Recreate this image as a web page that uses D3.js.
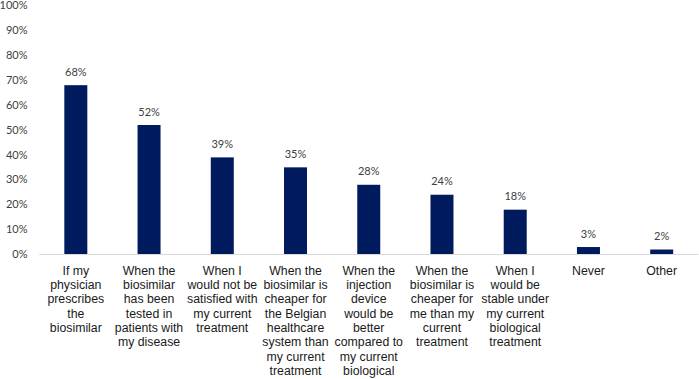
<!DOCTYPE html>
<html>
<head>
<meta charset="utf-8">
<script src="https://cdn.jsdelivr.net/npm/d3@7/dist/d3.min.js"></script>
<style>
  html, body { margin: 0; padding: 0; background: #fff; }
  svg { display: block; }
</style>
</head>
<body>
<svg id="chart" width="699" height="379"></svg>
<script>
const categories = [
  "If my physician prescribes the biosimilar",
  "When the biosimilar has been tested in patients with my disease",
  "When I would not be satisfied with my current treatment",
  "When the biosimilar is cheaper for the Belgian healthcare system than my current treatment",
  "When the injection device would be better compared to my current biological",
  "When the biosimilar is cheaper for me than my current treatment",
  "When I would be stable under my current biological treatment",
  "Never",
  "Other"
];
const categoryLines = [
  ["If my", "physician", "prescribes", "the", "biosimilar"],
  ["When the", "biosimilar", "has been", "tested in", "patients with", "my disease"],
  ["When I", "would not be", "satisfied with", "my current", "treatment"],
  ["When the", "biosimilar is", "cheaper for", "the Belgian", "healthcare", "system than", "my current", "treatment"],
  ["When the", "injection", "device", "would be", "better", "compared to", "my current", "biological"],
  ["When the", "biosimilar is", "cheaper for", "me than my", "current", "treatment"],
  ["When I", "would be", "stable under", "my current", "biological", "treatment"],
  ["Never"],
  ["Other"]
];
const values = [68, 52, 39, 35, 28, 24, 18, 3, 2];
const yTicks = [0, 10, 20, 30, 40, 50, 60, 70, 80, 90, 100];

const svg = d3.select("#chart");
const x = d3.scaleBand().domain(categories).range([39.2, 698.3]).padding(0);
const y = d3.scaleLinear().domain([0, 100]).range([254.5, 5.5]);
const barW = x.bandwidth() * 0.314;

// y axis labels
svg.append("g").selectAll("text").data(yTicks).join("text")
  .attr("x", 27.5)
  .attr("y", d => y(d) + 3.6)
  .attr("text-anchor", "end")
  .attr("font-family", "Lato, 'Open Sans', sans-serif")
  .attr("font-size", 11)
  .attr("fill", "#404040")
  .text(d => d + "%");

// bars
svg.append("g").selectAll("rect").data(values).join("rect")
  .attr("x", (d, i) => x(categories[i]) + x.bandwidth() / 2 - barW / 2)
  .attr("width", barW)
  .attr("y", d => y(d))
  .attr("height", d => y(0) - y(d))
  .attr("fill", "#001a5e");

// x axis line
svg.append("line")
  .attr("x1", x.range()[0]).attr("x2", x.range()[1])
  .attr("y1", y(0)).attr("y2", y(0))
  .attr("stroke", "#d9d9d9").attr("stroke-width", 1);

// value labels
svg.append("g").selectAll("text").data(values).join("text")
  .attr("x", (d, i) => x(categories[i]) + x.bandwidth() / 2)
  .attr("y", d => y(d) - 9.3)
  .attr("text-anchor", "middle")
  .attr("font-family", "Lato, 'Open Sans', sans-serif")
  .attr("font-size", 11)
  .attr("fill", "#404040")
  .text(d => d + "%");

// category labels
const cat = svg.append("g").selectAll("text").data(categoryLines).join("text")
  .attr("text-anchor", "middle")
  .attr("font-family", "'Liberation Sans', Arial, sans-serif")
  .attr("font-size", 12.3)
  .attr("fill", "#1a1a1a");
cat.each(function(lines, i) {
  const cx = x(categories[i]) + x.bandwidth() / 2;
  d3.select(this).selectAll("tspan").data(lines).join("tspan")
    .attr("x", cx)
    .attr("y", (l, j) => 274.5 + j * 14.35)
    .text(l => l);
});
</script>
</body>
</html>
